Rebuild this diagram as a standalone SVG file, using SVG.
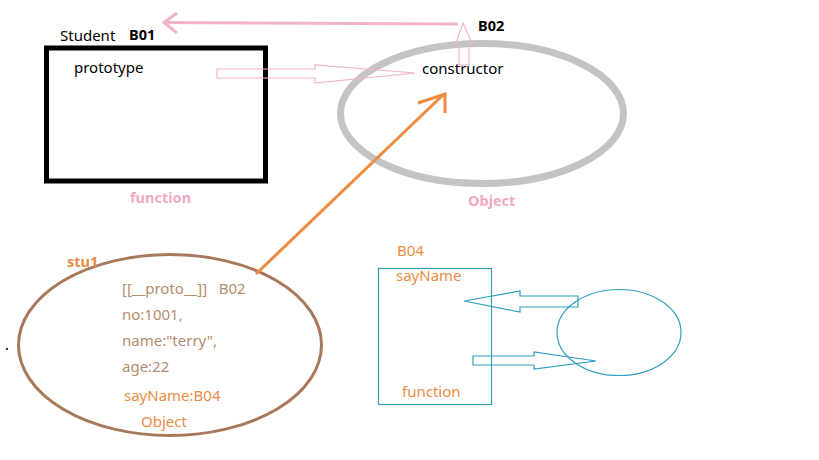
<svg xmlns="http://www.w3.org/2000/svg" width="819" height="460" viewBox="0 0 819 460">
<style>
text{font-family:"Noto Sans","Open Sans",sans-serif;font-size:15px}
.b{font-weight:bold;font-size:14.5px}
.pk{fill:#f2a9c4}
.or{fill:#ea8c44}
.tan{fill:#b48c6c}
.hol{fill:none;stroke:#f2b4ca;stroke-width:1.2}
.bl{fill:none;stroke:#2f9fbd;stroke-width:1.2}
</style>
<rect width="819" height="460" fill="#fff"/>
<g id="student">
<rect x="46.5" y="48" width="219" height="133" fill="none" stroke="#000" stroke-width="5"/>
<text x="60" y="41">Student</text>
<text x="129" y="40" class="b">B01</text>
<text x="74" y="73">prototype</text>
<text x="130" y="203" class="b pk">function</text>
</g>
<g id="object-proto">
<ellipse cx="482" cy="113.5" rx="141.5" ry="70" fill="none" stroke="#c4c4c4" stroke-width="7"/>
<text x="422" y="74">constructor</text>
<text x="478" y="31" class="b">B02</text>
<text x="468" y="206" class="b pk">Object</text>
</g>
<g id="stu1">
<ellipse cx="170" cy="345" rx="151.5" ry="90.5" fill="none" stroke="#a8785a" stroke-width="3"/>
<text x="67" y="267" class="b or">stu1</text>
<text x="122" y="294" class="tan" xml:space="preserve">[[__proto__]]   B02</text>
<text x="122" y="320" class="tan">no:1001,</text>
<text x="122" y="346" class="tan">name:"terry",</text>
<text x="122" y="372" class="tan">age:22</text>
<text x="124" y="401" class="or">sayName:B04</text>
<text x="141" y="427" class="or">Object</text>
<rect x="6" y="348" width="2" height="2" fill="#333"/>
</g>
<g id="b04">
<rect x="378.5" y="268.5" width="113" height="136" class="bl"/>
<text x="397" y="256" class="or">B04</text>
<text x="396" y="281" class="or">sayName</text>
<text x="402" y="397" class="or">function</text>
</g>
<g id="scope">
<ellipse cx="619" cy="332.5" rx="62" ry="43" class="bl"/>
</g>
<g id="connectors">
<path d="M458 24 L163 22.5" stroke="#f2b4ca" stroke-width="3" fill="none"/>
<path d="M177 13 L164 22.5 L177 33" stroke="#f2b4ca" stroke-width="3" fill="none"/>
<polygon points="459,65 459,43 456,43 463,23 472,43 469,43 469,65" class="hol"/>
<polygon points="217,69 315,69 315,65 415,73 315,83 315,78 217,78" class="hol"/>
<path d="M256 274 L444 94" stroke="#f08a3c" stroke-width="3" fill="none"/>
<path d="M418 103 L445 94 L445 113" stroke="#f08a3c" stroke-width="3" fill="none"/>
<polygon points="578,296 520,296 520,291 464,301 520,312 520,307 578,307" class="bl"/>
<polygon points="473,356 534,356 534,352 596,361 534,369 534,365 473,365" class="bl"/>
</g>
</svg>
